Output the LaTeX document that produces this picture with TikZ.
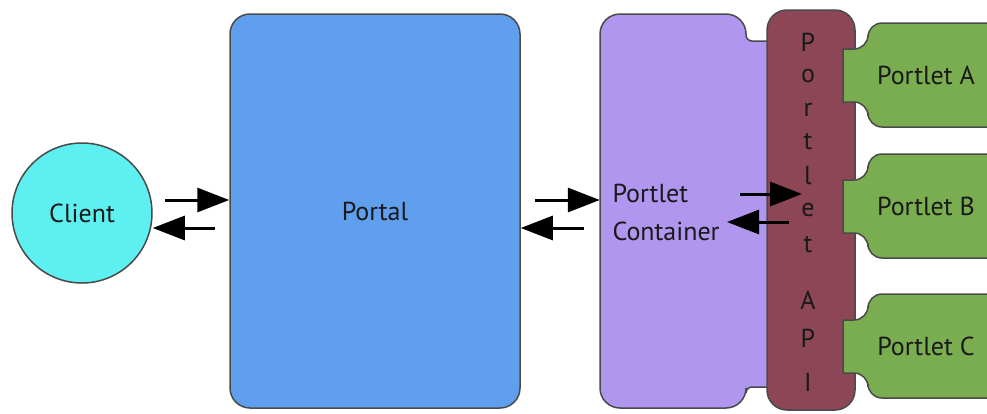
\documentclass[tikz,border=0pt]{standalone}
\usepackage{fontspec}
\setmainfont{PT Sans}
\usetikzlibrary{positioning,arrows.meta}
\definecolor{clientcol}{HTML}{5EF0F0}
\definecolor{portalcol}{HTML}{5F9FEE}
\definecolor{contcol}{HTML}{B096EE}
\definecolor{apicol}{HTML}{8D4656}
\definecolor{letcol}{HTML}{7AAD4F}
\definecolor{edgecol}{HTML}{4A4A4A}
\tikzset{
    box/.style = {draw=edgecol, line width=1.5pt, rounded corners=20pt},
    label/.style = {font=\fontsize{26}{38}\selectfont, text=black!90},
    letter/.style = {font=\fontsize{26}{30}\selectfont, text=black!90, inner sep=0pt},
    flow/.style = {line width=3pt, -{Triangle[length=32pt,width=24pt]}}
}

\begin{document}
\begin{tikzpicture}[x=1pt, y=-1pt]
\useasboundingbox[fill=white] (0,0) rectangle (987,413);
\node[circle, draw=edgecol, line width=1.5pt, fill=clientcol, minimum size=140pt, label] (client) at (82,213) {Client};
\node[box, fill=portalcol, minimum width=290pt, minimum height=394pt, label] (portal) at (375,211) {Portal};
% container with notches on the right
\filldraw[draw=edgecol, line width=1.5pt, fill=contcol]
    (770,41) [rounded corners=6pt] -- (746,41) [rounded corners=20pt] -- (746,14) -- (600,14)
    -- (600,408) -- (746,408) [rounded corners=6pt] -- (746,387) [sharp corners] -- (770,387);
\node[minimum width=146pt, minimum height=394pt, inner sep=0pt] (container) at (673,211) {};
\node[label, align=left, anchor=west] (conttext) at (609,212) {Portlet\\Container};
\node[box, fill=apicol, minimum width=88pt, minimum height=400pt] (api) at (811,210) {};
\foreach \ch/\y in {P/42, o/76, r/110, t/142, l/176, e/210, t/245, A/300, P/338, I/382}
    \node[letter] (api-\y) at (808,\y) {\ch};
% portlets with a tab into the api
\foreach \name/\y in {A/75, B/206, C/346} {
    \filldraw[draw=edgecol, line width=1.5pt, fill=letcol]
        (1000,\y-52) [rounded corners=14pt] -- (868,\y-52) -- (868,\y-26) [sharp corners] -- (843,\y-26)
        -- (843,\y+27) [rounded corners=14pt] -- (868,\y+27) -- (868,\y+52) [sharp corners] -- (1000,\y+52);
    \node[label] (portlet\name) at (926,\y) {Portlet \name};
}
% requests and responses
\coordinate (c1) at (165,200);
\coordinate (c2) at (215,228);
\coordinate (c3) at (535,200);
\coordinate (c4) at (584,228);
\coordinate (c5) at (740,194);
\coordinate (c5end) at (802,194);
\coordinate (c6) at (789,222);
\coordinate (c6end) at (727,222);
\draw[flow] (c1) -- (c1 -| portal.west);
\draw[flow] (c2) -- (c2 -| client.east);
\draw[flow] (c3) -- (c3 -| container.west);
\draw[flow] (c4) -- (c4 -| portal.east);
\draw[flow] (c5) -- (c5end);
\draw[flow] (c6) -- (c6end);
\end{tikzpicture}
\end{document}
